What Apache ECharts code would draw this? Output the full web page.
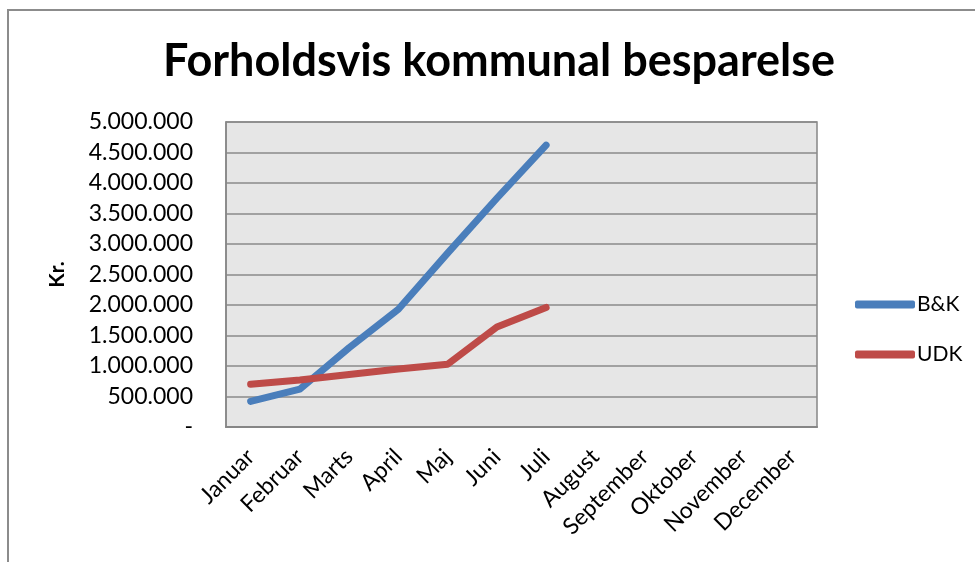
<!DOCTYPE html>
<html>
<head>
<meta charset="utf-8">
<title>Forholdsvis kommunal besparelse</title>
<script src="https://cdn.jsdelivr.net/npm/echarts@6/dist/echarts.min.js"></script>
<style>
  html, body { margin: 0; padding: 0; background: #fff; }
  #main { width: 975px; height: 562px; }
</style>
</head>
<body>
<div id="main"></div>
<script>
// chart data
var months = ['Januar', 'Februar', 'Marts', 'April', 'Maj', 'Juni', 'Juli',
    'August', 'September', 'Oktober', 'November', 'December'];
var bkValues = [420000, 620000, 1300000, 1930000, 2850000, 3750000, 4620000];
var udkValues = [700000, 770000, 860000, 950000, 1030000, 1640000, 1960000];
var seriesNames = ['B&K', 'UDK'];

var fontFamily = 'Lato, "Open Sans", sans-serif';

function formatKr(value) {
    if (value === 0) return '-';
    return String(value).replace(/\B(?=(\d{3})+(?!\d))/g, '.');
}

var myChart = echarts.init(document.getElementById('main'));

var option = {
    backgroundColor: '#fff',
    animation: false,
    title: {
        text: 'Forholdsvis kommunal besparelse',
        left: 158,
        top: 34,
        textStyle: { fontFamily: fontFamily, fontSize: 45, fontWeight: 'bold', color: '#000' }
    },
    graphic: [
        {
            type: 'polyline',
            shape: { points: [[8, 562], [8, 10], [975, 10]] },
            style: { stroke: '#8c8c8c', lineWidth: 2, fill: null }
        }
    ],
    legend: {
        orient: 'vertical',
        left: 855,
        top: 294,
        padding: 0,
        itemWidth: 60,
        itemHeight: 8,
        itemGap: 29,
        icon: 'roundRect',
        textStyle: { fontFamily: fontFamily, fontSize: 21, color: '#000', padding: [0, 0, 0, -3] },
        data: seriesNames
    },
    grid: {
        left: 226,
        right: 158,
        top: 122,
        bottom: 135,
        show: true,
        backgroundColor: '#e6e6e6',
        borderColor: '#868686',
        borderWidth: 1.5
    },
    xAxis: {
        type: 'category',
        data: months,
        boundaryGap: true,
        axisLine: { show: true, lineStyle: { color: '#868686', width: 2 } },
        axisTick: { show: false },
        axisLabel: {
            rotate: 45,
            interval: 0,
            margin: 26,
            fontFamily: fontFamily,
            fontSize: 23,
            color: '#000'
        }
    },
    yAxis: {
        type: 'value',
        min: 0,
        max: 5000000,
        interval: 500000,
        name: 'Kr.',
        nameLocation: 'middle',
        nameGap: 158,
        nameRotate: 90,
        nameTextStyle: { fontFamily: fontFamily, fontSize: 21, fontWeight: 'bold', color: '#000' },
        axisLine: { show: true, lineStyle: { color: '#868686', width: 1.5 } },
        axisTick: { show: false },
        splitLine: { lineStyle: { color: '#8a8a8a', width: 1.5 } },
        axisLabel: {
            formatter: formatKr,
            margin: 33,
            fontFamily: fontFamily,
            fontSize: 23,
            color: '#000'
        }
    },
    series: [
        {
            name: seriesNames[0],
            type: 'line',
            data: bkValues,
            symbol: 'none',
            itemStyle: { color: '#4a7ebb' },
            lineStyle: { color: '#4a7ebb', width: 7, cap: 'round', join: 'round' },
            z: 3
        },
        {
            name: seriesNames[1],
            type: 'line',
            data: udkValues,
            symbol: 'none',
            itemStyle: { color: '#be4b48' },
            lineStyle: { color: '#be4b48', width: 7, cap: 'round', join: 'round' },
            z: 4
        }
    ]
};

myChart.setOption(option);
</script>
</body>
</html>
